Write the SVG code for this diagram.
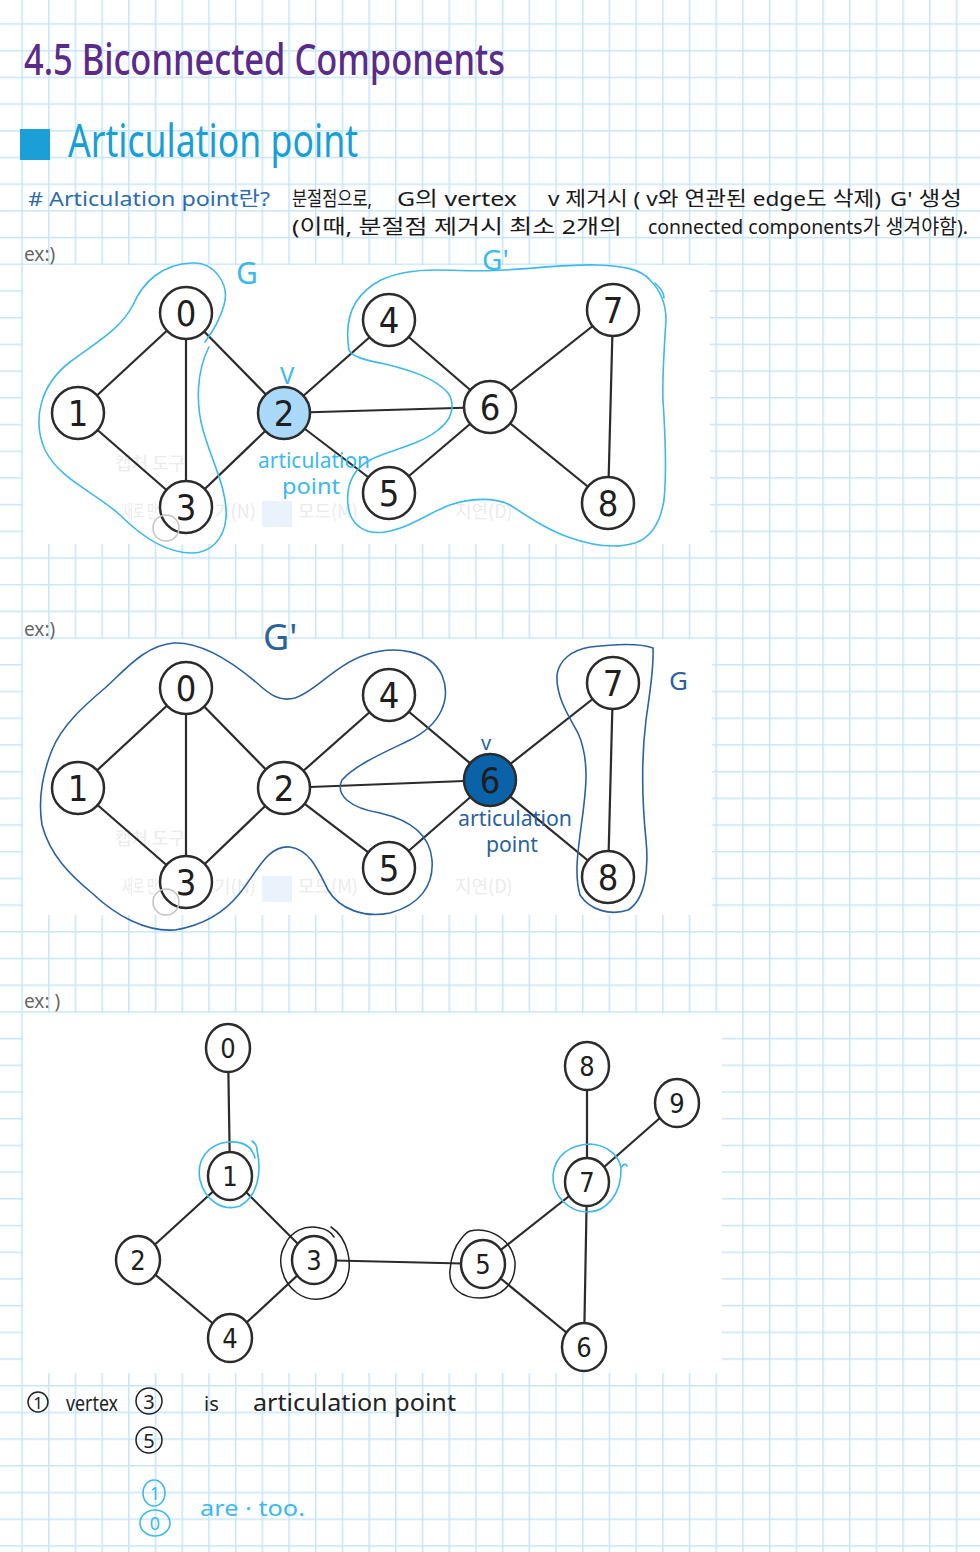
<svg xmlns="http://www.w3.org/2000/svg" width="980" height="1552" viewBox="0 0 980 1552">
<defs>
<pattern id="grid" x="21.25" y="23.25" width="26.7" height="26.7" patternUnits="userSpaceOnUse"><path d="M0 0.75H26.7M0.75 0V26.7" stroke="#c6e6fb" stroke-width="1.6" fill="none"/></pattern>
<style>
.edge{stroke:#2b2b2b;stroke-width:2.2;fill:none}
.node{fill:#fff;stroke:#2b2b2b;stroke-width:2.5}
.num{font-family:"DejaVu Sans Condensed","DejaVu Sans",sans-serif;font-size:36px;fill:#1e1e1e;text-anchor:middle}
.num3{font-family:"DejaVu Sans Condensed","DejaVu Sans",sans-serif;font-size:27px;fill:#1e1e1e;text-anchor:middle}
.hw{font-family:"Noto Sans","Noto Sans CJK KR",sans-serif}
.cy{stroke:#3cb9ee;stroke-width:1.6;fill:none;stroke-linecap:round}
.db{stroke:#2a62a0;stroke-width:1.6;fill:none;stroke-linecap:round}
.bk{stroke:#222;stroke-width:1.5;fill:none;stroke-linecap:round}
.ghost{font-family:"Noto Sans CJK KR",sans-serif;font-size:18px;fill:#ebebeb}
.ex{font-family:"Noto Sans",sans-serif;font-size:19px;fill:#666}
</style>
</defs>
<rect width="980" height="1552" fill="#fff"/>
<rect width="980" height="1552" fill="url(#grid)"/>
<!-- screenshot areas -->
<rect x="23" y="265" width="687" height="279" fill="#fff"/>
<rect x="23" y="639" width="689" height="276" fill="#fff"/>
<rect x="23" y="1013" width="699" height="360" fill="#fff"/>

<!-- header texts -->
<g id="title">
<text class="hw" x="24" y="75" font-size="44" font-weight="500" fill="#5b2b8c" textLength="481" lengthAdjust="spacingAndGlyphs">4.5 Biconnected Components</text>
</g>
<g id="section">
<rect x="20" y="129" width="30" height="31" fill="#1a9fd6"/>
<text class="hw" x="68" y="157" font-size="46" fill="#179fd8" textLength="290" lengthAdjust="spacingAndGlyphs">Articulation point</text>
</g>
<g id="definition" class="hw" font-size="20">
<text x="28" y="206" fill="#2b6cb0" textLength="242" lengthAdjust="spacingAndGlyphs"># Articulation point란?</text>
<text x="292" y="206" fill="#1a1a1a" textLength="80" lengthAdjust="spacingAndGlyphs">분절점으로,</text>
<text x="397" y="206" fill="#1a1a1a" textLength="120" lengthAdjust="spacingAndGlyphs">G의 vertex</text>
<text x="548" y="206" fill="#1a1a1a" textLength="333" lengthAdjust="spacingAndGlyphs">v 제거시 ( v와 연관된 edge도 삭제)</text>
<text x="890" y="206" fill="#1a1a1a" textLength="72" lengthAdjust="spacingAndGlyphs">G' 생성</text>
<text x="292" y="234" fill="#1a1a1a" textLength="330" lengthAdjust="spacingAndGlyphs">(이때, 분절점 제거시 최소 2개의</text>
<text x="648" y="234" fill="#1a1a1a" textLength="320" lengthAdjust="spacingAndGlyphs">connected components가 생겨야함).</text>
</g>

<!-- ===== Example 1 ===== -->
<text class="ex" x="24" y="261">ex:)</text>
<g id="ghost1">
<text class="ghost" x="115" y="470">캡처 도구</text>
<text class="ghost" x="122" y="518" textLength="36" lengthAdjust="spacingAndGlyphs">새로 만</text>
<text class="ghost" x="214" y="518">기(N)</text>
<rect x="262" y="501" width="30" height="26" fill="#eaf3fb"/>
<text class="ghost" x="298" y="518">모드(M)</text>
<text class="ghost" x="455" y="518">지연(D)</text>
</g>
<g id="connectors1">
<line class="edge" x1="186" y1="313" x2="78" y2="413"/>
<line class="edge" x1="186" y1="313" x2="186" y2="507"/>
<line class="edge" x1="186" y1="313" x2="284" y2="413"/>
<line class="edge" x1="78" y1="413" x2="186" y2="507"/>
<line class="edge" x1="284" y1="413" x2="186" y2="507"/>
<line class="edge" x1="284" y1="413" x2="389" y2="320"/>
<line class="edge" x1="284" y1="413" x2="389" y2="493"/>
<line class="edge" x1="284" y1="413" x2="490" y2="407"/>
<line class="edge" x1="389" y1="320" x2="490" y2="407"/>
<line class="edge" x1="389" y1="493" x2="490" y2="407"/>
<line class="edge" x1="490" y1="407" x2="613" y2="310"/>
<line class="edge" x1="490" y1="407" x2="608" y2="503"/>
<line class="edge" x1="613" y1="310" x2="608" y2="503"/>
</g>
<g id="g1n0"><circle class="node" cx="186" cy="313" r="26"/><text class="num" x="186" y="326">0</text></g>
<g id="g1n1"><circle class="node" cx="78" cy="413" r="26"/><text class="num" x="78" y="426">1</text></g>
<g id="g1n2"><circle class="node" cx="284" cy="413" r="26" style="fill:#a9d8f8"/><text class="num" x="284" y="426">2</text></g>
<g id="g1n3"><circle class="node" cx="186" cy="507" r="26"/><text class="num" x="186" y="520">3</text></g>
<g id="g1n4"><circle class="node" cx="389" cy="320" r="26"/><text class="num" x="389" y="333">4</text></g>
<g id="g1n5"><circle class="node" cx="389" cy="493" r="26"/><text class="num" x="389" y="506">5</text></g>
<g id="g1n6"><circle class="node" cx="490" cy="407" r="26"/><text class="num" x="490" y="420">6</text></g>
<g id="g1n7"><circle class="node" cx="613" cy="310" r="26"/><text class="num" x="613" y="323">7</text></g>
<g id="g1n8"><circle class="node" cx="608" cy="503" r="26"/><text class="num" x="608" y="516">8</text></g>
<circle cx="166" cy="528" r="13" fill="none" stroke="#c4c4c4" stroke-width="1.5"/>
<g id="annot1">
<path class="cy" d="M209,347 C196,372 196,405 203,430 C212,462 228,490 226,518 C224,540 210,553 192,553 C165,553 140,535 120,515 C95,492 60,480 45,450 C32,420 40,385 70,362 C95,343 120,330 133,305 C143,282 162,264 192,263 C215,262 230,285 224,305 C220,320 214,330 205,342"/>
<path class="cy" d="M349,350 C344,320 352,295 381,280 C400,271 420,270 436,270 C460,270 480,272 505,270 C540,268 570,264 597,265 C620,266 640,268 650,280 C662,292 666,305 666,320 C664,350 662,380 663,400 C665,430 667,470 664,500 C660,525 650,538 635,543 C615,549 590,545 568,537 C548,530 530,518 510,505 C495,497 470,498 450,505 C430,512 410,528 385,532 C365,535 350,525 348,505 C346,485 352,470 370,460 C390,450 420,445 438,430 C452,420 456,405 448,393 C435,378 410,370 385,364 C365,360 352,357 349,350"/>
<path class="cy" d="M655,283 C660,288 664,292 664,298"/>
<text class="hw" x="236" y="284" font-size="30" fill="#3cb9ee">G</text>
<text class="hw" x="482" y="270" font-size="28" fill="#3cb9ee">G'</text>
<text class="hw" x="280" y="384" font-size="24" fill="#3cb9ee">V</text>
<text class="hw" x="258" y="468" font-size="21" fill="#3cb9ee" textLength="112" lengthAdjust="spacingAndGlyphs">articulation</text>
<text class="hw" x="282" y="494" font-size="21" fill="#3cb9ee" textLength="58" lengthAdjust="spacingAndGlyphs">point</text>
</g>

<!-- ===== Example 2 ===== -->
<text class="ex" x="24" y="636">ex:)</text>
<g id="ghost2">
<text class="ghost" x="115" y="845">캡처 도구</text>
<text class="ghost" x="122" y="893" textLength="36" lengthAdjust="spacingAndGlyphs">새로 만</text>
<text class="ghost" x="214" y="893">기(N)</text>
<rect x="262" y="876" width="30" height="26" fill="#eaf3fb"/>
<text class="ghost" x="298" y="893">모드(M)</text>
<text class="ghost" x="455" y="893">지연(D)</text>
</g>
<g id="connectors2">
<line class="edge" x1="186" y1="688" x2="78" y2="788"/>
<line class="edge" x1="186" y1="688" x2="186" y2="882"/>
<line class="edge" x1="186" y1="688" x2="284" y2="788"/>
<line class="edge" x1="78" y1="788" x2="186" y2="882"/>
<line class="edge" x1="284" y1="788" x2="186" y2="882"/>
<line class="edge" x1="284" y1="788" x2="389" y2="695"/>
<line class="edge" x1="284" y1="788" x2="389" y2="868"/>
<line class="edge" x1="284" y1="788" x2="490" y2="780"/>
<line class="edge" x1="389" y1="695" x2="490" y2="780"/>
<line class="edge" x1="389" y1="868" x2="490" y2="780"/>
<line class="edge" x1="490" y1="780" x2="613" y2="683"/>
<line class="edge" x1="490" y1="780" x2="608" y2="877"/>
<line class="edge" x1="613" y1="683" x2="608" y2="877"/>
</g>
<g id="g2n0"><circle class="node" cx="186" cy="688" r="26"/><text class="num" x="186" y="701">0</text></g>
<g id="g2n1"><circle class="node" cx="78" cy="788" r="26"/><text class="num" x="78" y="801">1</text></g>
<g id="g2n2"><circle class="node" cx="284" cy="788" r="26"/><text class="num" x="284" y="801">2</text></g>
<g id="g2n3"><circle class="node" cx="186" cy="882" r="26"/><text class="num" x="186" y="895">3</text></g>
<g id="g2n4"><circle class="node" cx="389" cy="695" r="26"/><text class="num" x="389" y="708">4</text></g>
<g id="g2n5"><circle class="node" cx="389" cy="868" r="26"/><text class="num" x="389" y="881">5</text></g>
<g id="g2n6"><circle class="node" cx="490" cy="780" r="26" style="fill:#0a62a8"/><text class="num" x="490" y="793">6</text></g>
<g id="g2n7"><circle class="node" cx="613" cy="683" r="26"/><text class="num" x="613" y="696">7</text></g>
<g id="g2n8"><circle class="node" cx="608" cy="877" r="26"/><text class="num" x="608" y="890">8</text></g>
<circle cx="166" cy="902" r="13" fill="none" stroke="#c4c4c4" stroke-width="1.5"/>
<g id="annot2">
<path class="db" d="M174,643 C200,642 230,660 257,683 C270,695 280,702 295,698 C315,692 335,665 365,655 C395,645 430,650 442,675 C452,700 440,725 410,740 C385,752 355,765 342,780 C335,795 350,808 380,813 C410,820 430,835 432,860 C434,885 420,905 390,913 C365,918 340,910 328,890 C318,870 310,850 290,847 C268,845 258,870 240,893 C225,912 205,925 175,930 C145,932 115,915 92,893 C70,875 50,855 42,825 C38,800 42,775 52,750 C62,725 85,705 105,688 C125,670 145,645 174,643"/>
<path class="db" d="M590,647 C615,644 640,643 653,648 C654,670 650,690 646,720 C641,760 642,800 646,840 C649,870 645,900 628,910 C610,916 590,910 580,895 C574,875 578,850 582,820 C586,790 590,760 578,733 C566,712 556,695 557,675 C559,660 572,650 590,647"/>
<text class="hw" x="263" y="650" font-size="36" fill="#2a62a0">G'</text>
<text class="hw" x="669" y="690" font-size="26" fill="#2a62a0">G</text>
<text class="hw" x="481" y="750" font-size="20" fill="#2a62a0">v</text>
<text class="hw" x="458" y="826" font-size="21" fill="#2a62a0" textLength="114" lengthAdjust="spacingAndGlyphs">articulation</text>
<text class="hw" x="486" y="852" font-size="21" fill="#2a62a0" textLength="52" lengthAdjust="spacingAndGlyphs">point</text>
</g>

<!-- ===== Example 3 ===== -->
<text class="ex" x="24" y="1008">ex: )</text>
<g id="connectors3">
<line class="edge" x1="228" y1="1048" x2="230" y2="1176"/>
<line class="edge" x1="230" y1="1176" x2="138" y2="1260"/>
<line class="edge" x1="230" y1="1176" x2="314" y2="1260"/>
<line class="edge" x1="138" y1="1260" x2="230" y2="1338"/>
<line class="edge" x1="314" y1="1260" x2="230" y2="1338"/>
<line class="edge" x1="314" y1="1260" x2="483" y2="1264"/>
<line class="edge" x1="483" y1="1264" x2="587" y2="1182"/>
<line class="edge" x1="483" y1="1264" x2="584" y2="1347"/>
<line class="edge" x1="587" y1="1182" x2="584" y2="1347"/>
<line class="edge" x1="587" y1="1182" x2="587" y2="1066"/>
<line class="edge" x1="587" y1="1182" x2="677" y2="1103"/>
</g>
<g id="g3n0"><ellipse class="node" cx="228" cy="1048" rx="22" ry="24"/><text class="num3" x="228" y="1058">0</text></g>
<g id="g3n1"><ellipse class="node" cx="230" cy="1176" rx="22" ry="24"/><text class="num3" x="230" y="1186">1</text></g>
<g id="g3n2"><ellipse class="node" cx="138" cy="1260" rx="22" ry="24"/><text class="num3" x="138" y="1270">2</text></g>
<g id="g3n3"><ellipse class="node" cx="314" cy="1260" rx="22" ry="24"/><text class="num3" x="314" y="1270">3</text></g>
<g id="g3n4"><ellipse class="node" cx="230" cy="1338" rx="22" ry="24"/><text class="num3" x="230" y="1348">4</text></g>
<g id="g3n5"><ellipse class="node" cx="483" cy="1264" rx="22" ry="24"/><text class="num3" x="483" y="1274">5</text></g>
<g id="g3n6"><ellipse class="node" cx="584" cy="1347" rx="22" ry="24"/><text class="num3" x="584" y="1357">6</text></g>
<g id="g3n7"><ellipse class="node" cx="587" cy="1182" rx="22" ry="24"/><text class="num3" x="587" y="1192">7</text></g>
<g id="g3n8"><ellipse class="node" cx="587" cy="1066" rx="22" ry="24"/><text class="num3" x="587" y="1076">8</text></g>
<g id="g3n9"><ellipse class="node" cx="677" cy="1103" rx="22" ry="24"/><text class="num3" x="677" y="1113">9</text></g>
<g id="annot3">
<path class="cy" d="M257,1150 C262,1172 258,1196 240,1206 C222,1212 205,1200 200,1180 C196,1160 208,1144 228,1142 C242,1141 252,1146 255,1158 M252,1141 C255,1143 257,1146 257,1150"/>
<path class="cy" d="M621,1168 C622,1195 605,1212 588,1212 C568,1212 552,1195 553,1175 C555,1155 570,1145 590,1144 C608,1145 619,1156 621,1168 C623,1164 626,1163 627,1166"/>
<path class="bk" d="M331,1227 C348,1238 354,1265 345,1283 C335,1300 312,1304 297,1293 C282,1282 276,1260 285,1245 C290,1232 305,1224 320,1228 C326,1229 331,1232 334,1237"/>
<path class="bk" d="M470,1231 C490,1226 512,1240 515,1262 C516,1285 500,1298 480,1298 C462,1298 448,1288 450,1270 C451,1258 454,1247 461,1239 C464,1235 467,1232 470,1231"/>
</g>

<!-- ===== Note ===== -->
<g id="note" class="hw">
<circle cx="38" cy="1402" r="10" class="bk"/>
<text x="38" y="1409" font-size="17" fill="#222" text-anchor="middle">1</text>
<text x="66" y="1411" font-size="22" fill="#222" textLength="52" lengthAdjust="spacingAndGlyphs">vertex</text>
<circle cx="149" cy="1401" r="13" class="bk"/>
<text x="149" y="1409" font-size="20" fill="#222" text-anchor="middle">3</text>
<text x="204" y="1411" font-size="20" fill="#222">is</text>
<text x="253" y="1411" font-size="24" fill="#222" textLength="203" lengthAdjust="spacingAndGlyphs">articulation point</text>
<circle cx="149" cy="1440" r="13" class="bk"/>
<text x="149" y="1448" font-size="20" fill="#222" text-anchor="middle">5</text>
<ellipse cx="154" cy="1493" rx="11" ry="13" class="cy"/>
<text x="155" y="1500" font-size="18" fill="#3cb9ee" text-anchor="middle">1</text>
<ellipse cx="155" cy="1523" rx="15" ry="13" class="cy"/>
<text x="155" y="1530" font-size="18" fill="#3cb9ee" text-anchor="middle">0</text>
<text x="200" y="1516" font-size="22" fill="#3cb9ee" textLength="105" lengthAdjust="spacingAndGlyphs">are · too.</text>
</g>
</svg>
